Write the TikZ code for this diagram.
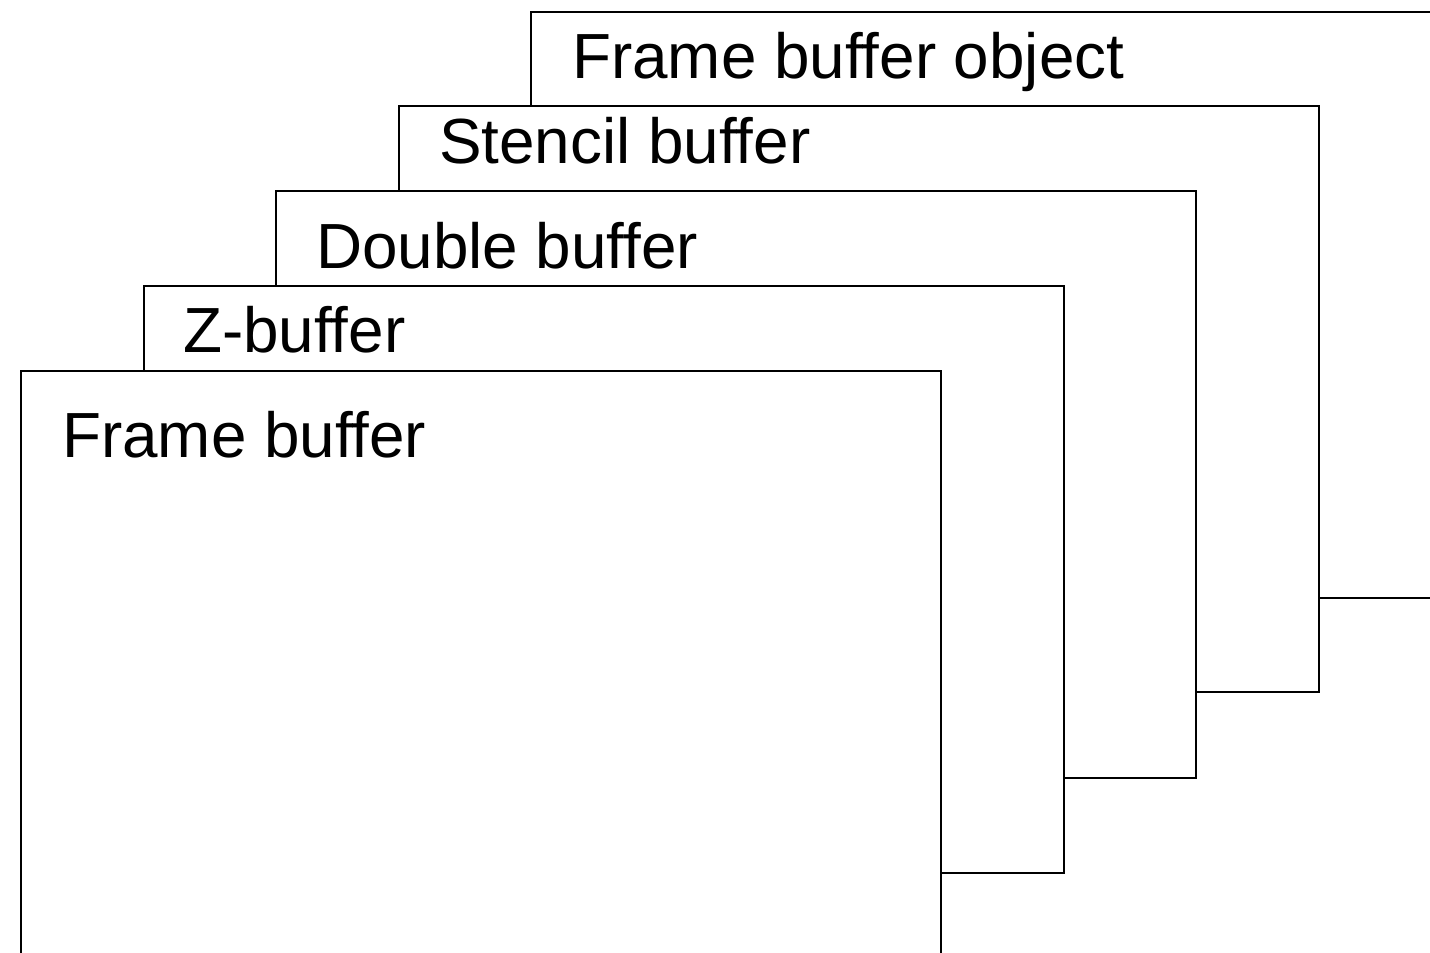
\documentclass[tikz,border=0pt]{standalone}
\usepackage{fontspec}
\setmainfont[Ligatures=NoCommon]{Liberation Sans}
\begin{document}
\begin{tikzpicture}[x=1pt,y=-1pt,
  layer/.style={draw=black,fill=white,line width=2pt},
  lbl/.style={anchor=base west,inner sep=0pt,font=\fontsize{63.8}{70}\selectfont}]
\useasboundingbox (0,0) rectangle (1430,953);
\fill[white] (0,0) rectangle (1430,953);
\clip (0,0) rectangle (1430,953);
\draw[layer] (531,12) rectangle (1460,598);
\node[lbl] (fbo) at (572,78) {Frame buffer object};
\draw[layer] (399,106) rectangle (1319,692);
\node[lbl] (stencil) at (439,163) {Stencil buffer};
\draw[layer] (276,191) rectangle (1196,778);
\node[lbl] (double) at (316,268) {Double buffer};
\draw[layer] (144,286) rectangle (1064,873);
\node[lbl] (zbuf) at (183,352) {Z-buffer};
\draw[layer] (21,371) rectangle (941,970);
\node[lbl] (frame) at (62,457) {Frame buffer};
\end{tikzpicture}
\end{document}
